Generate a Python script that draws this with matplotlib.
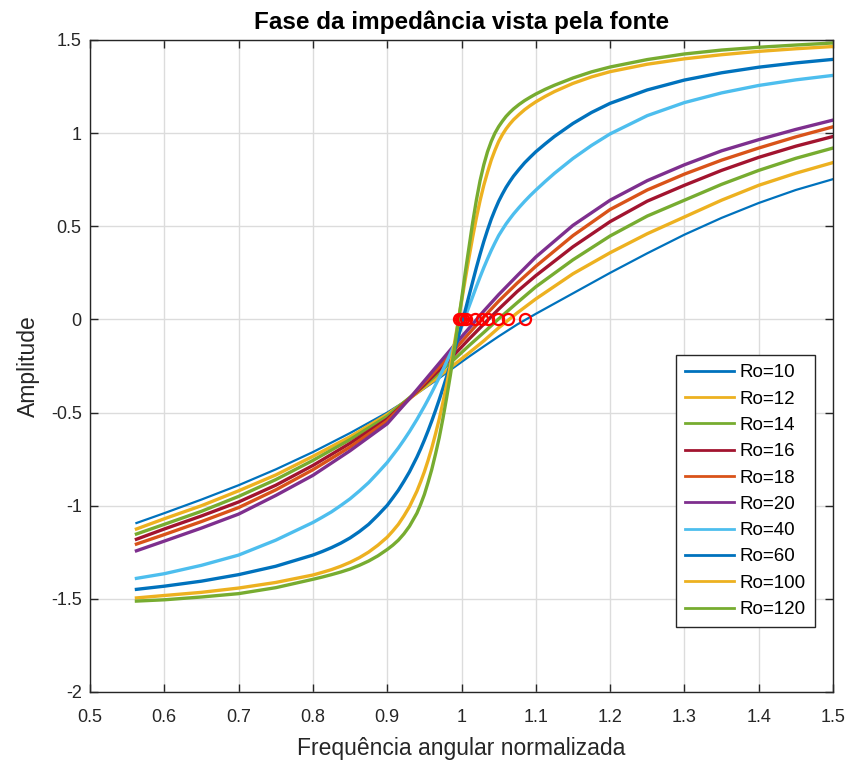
import matplotlib
matplotlib.use("Agg")
import matplotlib.pyplot as plt

plt.rcParams['font.family'] = ['Liberation Sans', 'DejaVu Sans']
plt.rcParams['axes.unicode_minus'] = False

# frequency samples for the low-Ro curves
w_lo = [0.5625, 0.6, 0.65, 0.7, 0.75, 0.8, 0.85, 0.9, 0.93, 0.95, 0.97, 0.99, 1.01,
        1.03, 1.05, 1.075, 1.1, 1.15, 1.2, 1.25, 1.3, 1.35, 1.4, 1.45, 1.5]

ro10 = [-1.093, -1.04, -0.967, -0.89, -0.805, -0.712, -0.61, -0.50, -0.425, -0.37, -0.315, -0.257, -0.20,
        -0.145, -0.091, -0.027, 0.03, 0.14, 0.25, 0.355, 0.455, 0.545, 0.625, 0.695, 0.753]
ro12 = [-1.125, -1.07, -1.0, -0.92, -0.835, -0.735, -0.63, -0.51, -0.425, -0.365, -0.305, -0.243, -0.18,
        -0.115, -0.045, 0.035, 0.11, 0.245, 0.358, 0.46, 0.55, 0.64, 0.72, 0.785, 0.842]
ro14 = [-1.152, -1.10, -1.03, -0.95, -0.86, -0.757, -0.645, -0.52, -0.42, -0.355, -0.285, -0.215, -0.141,
        -0.07, 0.003, 0.09, 0.175, 0.32, 0.448, 0.555, 0.64, 0.725, 0.80, 0.865, 0.92]
ro16 = [-1.18, -1.125, -1.055, -0.98, -0.89, -0.784, -0.665, -0.535, -0.425, -0.35, -0.27, -0.19, -0.106,
        -0.025, 0.055, 0.15, 0.235, 0.39, 0.525, 0.635, 0.72, 0.80, 0.87, 0.93, 0.982]
ro18 = [-1.206, -1.155, -1.085, -1.01, -0.915, -0.807, -0.685, -0.545, -0.425, -0.34, -0.255, -0.165, -0.075,
        0.013, 0.098, 0.195, 0.285, 0.45, 0.59, 0.695, 0.78, 0.855, 0.92, 0.98, 1.034]
ro20 = [-1.242, -1.19, -1.12, -1.045, -0.945, -0.837, -0.705, -0.56, -0.425, -0.33, -0.235, -0.14, -0.048,
        0.045, 0.133, 0.235, 0.335, 0.505, 0.64, 0.745, 0.83, 0.905, 0.965, 1.02, 1.07]

# frequency samples for the high-Ro curves (denser near resonance)
w_hi = [0.5625, 0.6, 0.65, 0.7, 0.75, 0.8, 0.8125, 0.825, 0.8375, 0.85, 0.8625, 0.875, 0.8875,
        0.9, 0.9075, 0.915, 0.9225, 0.93, 0.94, 0.945, 0.95, 0.955, 0.96, 0.965, 0.97, 0.975,
        0.98, 0.985, 0.99, 0.995, 1.0, 1.005, 1.01, 1.015, 1.02, 1.025, 1.03, 1.035, 1.04, 1.045,
        1.05, 1.055, 1.06, 1.065, 1.07, 1.0775, 1.085, 1.0925, 1.1, 1.1125, 1.125, 1.15, 1.175,
        1.2, 1.25, 1.3, 1.35, 1.4, 1.45, 1.5]

ro40 = [-1.39, -1.365, -1.32, -1.265, -1.185, -1.09, -1.062, -1.033, -0.999, -0.963, -0.921, -0.876,
        -0.823, -0.768, -0.729, -0.69, -0.647, -0.602, -0.537, -0.502, -0.467, -0.43, -0.392, -0.352,
        -0.312, -0.27, -0.228, -0.184, -0.14, -0.09, -0.04, 0.014, 0.068, 0.122, 0.176, 0.228, 0.278,
        0.325, 0.37, 0.411, 0.45, 0.482, 0.513, 0.54, 0.566, 0.601, 0.634, 0.665, 0.694, 0.74, 0.784,
        0.864, 0.934, 0.996, 1.094, 1.164, 1.216, 1.256, 1.286, 1.31]
ro60 = [-1.449, -1.432, -1.405, -1.37, -1.325, -1.265, -1.246, -1.225, -1.201, -1.173, -1.139, -1.10,
        -1.051, -0.998, -0.958, -0.917, -0.869, -0.818, -0.739, -0.695, -0.648, -0.598, -0.545, -0.489,
        -0.431, -0.37, -0.307, -0.242, -0.175, -0.104, -0.03, 0.048, 0.125, 0.202, 0.278, 0.35, 0.418,
        0.48, 0.538, 0.588, 0.634, 0.673, 0.709, 0.74, 0.769, 0.806, 0.841, 0.871, 0.90, 0.942, 0.982,
        1.052, 1.111, 1.16, 1.232, 1.285, 1.324, 1.354, 1.377, 1.396]
ro100 = [-1.495, -1.482, -1.465, -1.442, -1.412, -1.372, -1.358, -1.343, -1.325, -1.304, -1.279, -1.249,
         -1.212, -1.169, -1.136, -1.10, -1.055, -1.005, -0.922, -0.872, -0.818, -0.757, -0.69, -0.615,
         -0.535, -0.445, -0.35, -0.248, -0.14, -0.024, 0.095, 0.214, 0.33, 0.441, 0.545, 0.638, 0.72,
         0.79, 0.855, 0.908, 0.955, 0.992, 1.023, 1.049, 1.072, 1.10, 1.126, 1.148, 1.168, 1.197, 1.223,
         1.267, 1.302, 1.33, 1.37, 1.399, 1.421, 1.439, 1.453, 1.465]
ro120 = [-1.512, -1.505, -1.49, -1.472, -1.44, -1.395, -1.383, -1.37, -1.356, -1.34, -1.32, -1.297,
         -1.269, -1.235, -1.212, -1.185, -1.151, -1.11, -1.04, -0.993, -0.94, -0.875, -0.805, -0.723,
         -0.635, -0.532, -0.42, -0.30, -0.17, -0.03, 0.105, 0.25, 0.385, 0.52, 0.64, 0.745, 0.83, 0.90,
         0.955, 1.0, 1.035, 1.064, 1.09, 1.111, 1.13, 1.154, 1.175, 1.193, 1.21, 1.235, 1.257, 1.296,
         1.329, 1.355, 1.395, 1.425, 1.446, 1.461, 1.473, 1.484]

labels = ['Ro=10', 'Ro=12', 'Ro=14', 'Ro=16', 'Ro=18', 'Ro=20', 'Ro=40', 'Ro=60', 'Ro=100', 'Ro=120']
colors = ['#0072BD', '#EDB120', '#77AC30', '#A2142F', '#D95319', '#7E2F8E', '#4DBEEE',
          '#0072BD', '#EDB120', '#77AC30']

# zero-phase frequencies (red circles)
zero_w = [1.086, 1.063, 1.049, 1.036, 1.027, 1.018, 1.006, 1.002, 0.999, 0.997]
zero_y = [0, 0, 0, 0, 0, 0, 0, 0, 0, 0]

fig = plt.figure(figsize=(8.48, 7.63), dpi=100)
ax = fig.add_axes([90/848, 1-692/763, 743/848, 652/763])

curves = [(w_lo, ro10), (w_lo, ro12), (w_lo, ro14), (w_lo, ro16), (w_lo, ro18), (w_lo, ro20),
          (w_hi, ro40), (w_hi, ro60), (w_hi, ro100), (w_hi, ro120)]
for i, ((xs, ys), lab, c) in enumerate(zip(curves, labels, colors)):
    lw = 1.6 if i == 0 else 2.4
    ax.plot(xs, ys, color=c, lw=lw, label=lab, solid_joinstyle='round')

ax.plot(zero_w, zero_y, 'o', mfc='none', mec='#FF0000', ms=8, mew=1.6)

ax.set_xlim(0.5, 1.5)
ax.set_ylim(-2, 1.5)
xt = [0.5, 0.6, 0.7, 0.8, 0.9, 1.0, 1.1, 1.2, 1.3, 1.4, 1.5]
ax.set_xticks(xt)
ax.set_xticklabels(['0.5', '0.6', '0.7', '0.8', '0.9', '1', '1.1', '1.2', '1.3', '1.4', '1.5'])
yt = [-2, -1.5, -1, -0.5, 0, 0.5, 1, 1.5]
ax.set_yticks(yt)
ax.set_yticklabels(['-2', '-1.5', '-1', '-0.5', '0', '0.5', '1', '1.5'])
ax.grid(True, color='#DCDCDC', lw=1.0)
ax.set_axisbelow(True)
ax.tick_params(direction='in', top=True, right=True, length=6, width=1.0,
               labelsize=13, colors='#262626')
ax.tick_params(axis='x', pad=12)
ax.tick_params(axis='y', pad=6)
for sp in ax.spines.values():
    sp.set_color('#262626')
    sp.set_linewidth(1.0)

ax.set_title('Fase da impedância vista pela fonte', fontsize=17.5, fontweight='bold', pad=8)
ax.set_xlabel('Frequência angular normalizada', fontsize=16.5, color='#262626', labelpad=8)
ax.set_ylabel('Amplitude', fontsize=16.5, color='#262626', labelpad=8)

leg = ax.legend(loc='lower right', bbox_to_anchor=(0.9758, 0.099), fontsize=13.5,
                frameon=True, fancybox=False, edgecolor='#262626', framealpha=1,
                borderpad=0.5, labelspacing=0.49, handlelength=2.6, handletextpad=0.3,
                borderaxespad=0)
leg.get_frame().set_linewidth(1.0)
for h in leg.get_lines():
    h.set_linewidth(2.0)

fig.savefig('out.png', dpi=100)
